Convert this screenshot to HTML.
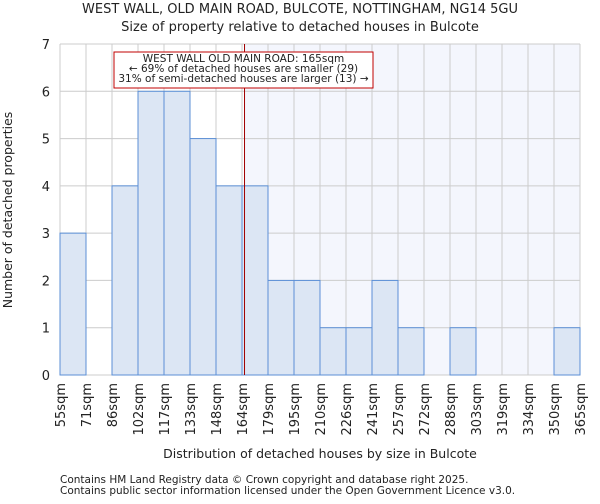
<!DOCTYPE html>
<html><head><meta charset="utf-8"><style>
body{margin:0;background:#fff;font-family:"DejaVu Sans","Liberation Sans",sans-serif;}
text{font-family:"DejaVu Sans","Liberation Sans",sans-serif;fill:#222;}
</style></head><body>
<svg id="chart" width="600" height="500" xmlns="http://www.w3.org/2000/svg">
<text x="300" y="13" font-size="13" text-anchor="middle">WEST WALL, OLD MAIN ROAD, BULCOTE, NOTTINGHAM, NG14 5GU</text>
<text x="300" y="31" font-size="13" text-anchor="middle">Size of property relative to detached houses in Bulcote</text>
<g id="plot"></g>
<text x="320" y="458" font-size="12.5" text-anchor="middle">Distribution of detached houses by size in Bulcote</text>
<text transform="translate(12,210) rotate(-90)" font-size="12.5" text-anchor="middle">Number of detached properties</text>
<text x="60" y="483" font-size="10.5">Contains HM Land Registry data © Crown copyright and database right 2025.</text>
<text x="60" y="494" font-size="10.5">Contains public sector information licensed under the Open Government Licence v3.0.</text>
</svg>
<script>
const categories=["55sqm","71sqm","86sqm","102sqm","117sqm","133sqm","148sqm","164sqm","179sqm","195sqm","210sqm","226sqm","241sqm","257sqm","272sqm","288sqm","303sqm","319sqm","334sqm","350sqm","365sqm"];
const counts=[3,0,4,6,6,5,4,4,2,2,1,1,2,1,0,1,0,0,0,1];
const yTicks=[0,1,2,3,4,5,6,7];
const subjectSize=165;
const annotationLines=["WEST WALL OLD MAIN ROAD: 165sqm","← 69% of detached houses are smaller (29)","31% of semi-detached houses are larger (13) →"];
const NS="http://www.w3.org/2000/svg";
const g=document.getElementById('plot');
const X0=60,X1=580,Y0=375,Y1=44,yMax=7;
const bw=(X1-X0)/counts.length;
const xb=i=>X0+i*bw;
const y=v=>Y0-(v/yMax)*(Y0-Y1);
const binStart=55,binEnd=365;
const xv=v=>X0+(v-binStart)/(binEnd-binStart)*(X1-X0);
function el(t,a,p){const e=document.createElementNS(NS,t);for(const k in a)e.setAttribute(k,a[k]);(p||g).appendChild(e);return e;}
const lx=xv(subjectSize);
const sh=el('rect',{x:lx,y:Y1,width:X1-lx,height:Y0-Y1,fill:'#f4f6fd'});


yTicks.forEach(t=>{const l=el('line',{x1:X0,x2:X1,y1:y(t),y2:y(t),stroke:'#cccccc'});


const tx=el('text',{x:X0-10,y:y(t)+5,'font-size':'13','text-anchor':'end'});tx.textContent=t;

});
categories.forEach((c,i)=>{const l=el('line',{x1:xb(i),x2:xb(i),y1:Y1,y2:Y0,stroke:'#cccccc'});


const tx=el('text',{transform:`translate(${xb(i)+5},${Y0+8}) rotate(-90)`,'font-size':'13','text-anchor':'end'});tx.textContent=c;

});
counts.forEach((v,i)=>{if(v<=0)return;const r=el('rect',{x:xb(i),y:y(v),width:bw,height:Y0-y(v),fill:'#dce6f4',stroke:'#5b8fd6','stroke-width':1});

});
const rl=el('line',{x1:lx,x2:lx,y1:Y1,y2:Y0,stroke:'#a00000','stroke-width':1});


const bx=el('rect',{x:114,y:52,width:259,height:36,fill:'#fff',stroke:'#c00000'});


annotationLines.forEach((s,i)=>{const t=el('text',{x:243.5,y:62+i*10,'font-size':'10.5','text-anchor':'middle'});t.textContent=s;

});
</script>
</body></html>
